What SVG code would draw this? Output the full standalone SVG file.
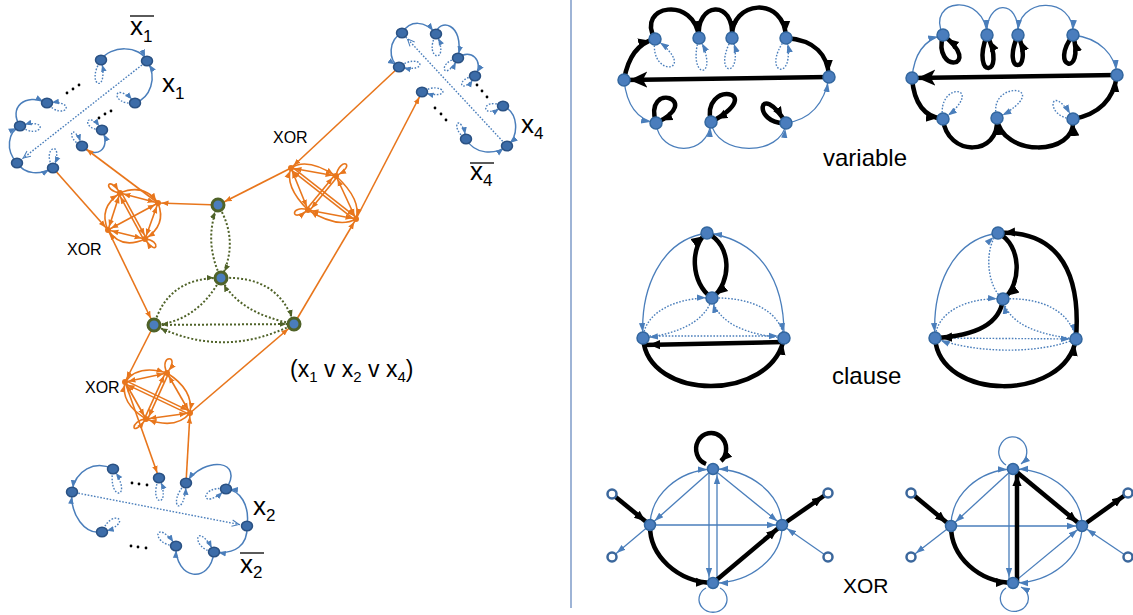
<svg xmlns="http://www.w3.org/2000/svg" width="1133" height="615" viewBox="0 0 1133 615">
<style>
.nb{fill:#3c6ca8;stroke:#2a5183;stroke-width:1.5}
.nr{fill:#4a7dbd;stroke:#33679f;stroke-width:1.5}
.ring{fill:#fff;stroke:#3b679c;stroke-width:2.5}
.ng{fill:#4a7dbd;stroke:#4f6228;stroke-width:3}
.no{fill:#e8761c}
.eb{fill:none;stroke:#4a7ebb;stroke-width:1.5}
.et{fill:none;stroke:#4a7ebb;stroke-width:1.3}
.ed{fill:none;stroke:#4a7ebb;stroke-width:1.4;stroke-dasharray:1.6 1.6}
.ek{fill:none;stroke:#000;stroke-width:4.5}
.eo{fill:none;stroke:#e8761c;stroke-width:1.6}
.eg{fill:none;stroke:#4f6228;stroke-width:2;stroke-dasharray:2 2}
.t{font-family:"Liberation Sans",Arial,sans-serif;fill:#000}
.ov{stroke:#000;stroke-width:1.3}
</style>
<defs>
<marker id="bl" viewBox="0 0 10 10" refX="17" refY="5" markerWidth="7" markerHeight="7" markerUnits="userSpaceOnUse" orient="auto-start-reverse"><path d="M0,1 L10,5 L0,9 z" fill="#4a7ebb"/></marker>
<marker id="vo" viewBox="0 0 10 10" refX="20" refY="5" markerWidth="8" markerHeight="8" markerUnits="userSpaceOnUse" orient="auto"><path d="M1,1 L10,5 L1,9" fill="none" stroke="#4a7ebb" stroke-width="1.3"/></marker>
<marker id="br" viewBox="0 0 10 10" refX="16.7" refY="5" markerWidth="9" markerHeight="9" markerUnits="userSpaceOnUse" orient="auto-start-reverse"><path d="M0,1.5 L10,5 L0,8.5 z" fill="#4a7ebb"/></marker>
<marker id="br0" viewBox="0 0 10 10" refX="10" refY="5" markerWidth="9" markerHeight="9" markerUnits="userSpaceOnUse" orient="auto"><path d="M0,1.5 L10,5 L0,8.5 z" fill="#4a7ebb"/></marker>
<marker id="kb" viewBox="0 0 10 10" refX="15.5" refY="5" markerWidth="11" markerHeight="11" markerUnits="userSpaceOnUse" orient="auto"><path d="M0,0.8 L10,5 L0,9.2 z" fill="#000"/></marker>
<marker id="kb0" viewBox="0 0 10 10" refX="10" refY="5" markerWidth="11" markerHeight="11" markerUnits="userSpaceOnUse" orient="auto"><path d="M0,0.8 L10,5 L0,9.2 z" fill="#000"/></marker>
<marker id="kbig" viewBox="0 0 10 10" refX="13" refY="5" markerWidth="18" markerHeight="18" markerUnits="userSpaceOnUse" orient="auto"><path d="M0,0.5 L10,5 L0,9.5 L2.5,5 z" fill="#000"/></marker>
<marker id="or" viewBox="0 0 10 10" refX="15" refY="5" markerWidth="7" markerHeight="7" markerUnits="userSpaceOnUse" orient="auto-start-reverse"><path d="M0,1 L10,5 L0,9 z" fill="#e8761c"/></marker>
<marker id="ob" viewBox="0 0 10 10" refX="18" refY="5" markerWidth="7" markerHeight="7" markerUnits="userSpaceOnUse" orient="auto"><path d="M0,1 L10,5 L0,9 z" fill="#e8761c"/></marker>
<marker id="og" viewBox="0 0 10 10" refX="20.7" refY="5" markerWidth="7" markerHeight="7" markerUnits="userSpaceOnUse" orient="auto"><path d="M0,1 L10,5 L0,9 z" fill="#e8761c"/></marker>
<marker id="gr" viewBox="0 0 10 10" refX="20.5" refY="5" markerWidth="7" markerHeight="7" markerUnits="userSpaceOnUse" orient="auto"><path d="M0,1 L10,5 L0,9 z" fill="#4f6228"/></marker>
</defs>
<rect width="1133" height="615" fill="#fff"/>
<line x1="571" y1="0" x2="571" y2="608" stroke="#6a8cc0" stroke-width="1.3"/>

<g id="connectors">
<g class="ed" marker-end="url(#vo)">
<path d="M147,61 L17,163"/>
<path d="M507,146 L402,33"/>
<path d="M72,492 L247,526"/>
</g>
<g class="ed" marker-end="url(#bl)">
<path d="M101,60 C84,86 110,96 101,60"/>
<path d="M135,103 C109,106 113,78 135,103"/>
<path d="M47,103 C64,123 80,99 47,103"/>
<path d="M20,126 C40,142 53,116 20,126"/>
<path d="M102,130 C80,130 86,107 102,130"/>
<path d="M82,146 C64,138 73,119 82,146"/>
<path d="M53,168 C40,147 66,138 53,168"/>
<path d="M436,34 C422,61 452,65 436,34"/>
<path d="M458,58 C435,63 445,84 458,58"/>
<path d="M399,67 C420,51 433,74 399,67"/>
<path d="M475,76 C453,79 462,97 475,76"/>
<path d="M422,92 C443,79 456,102 422,92"/>
<path d="M503,106 C480,96 480,122 503,106"/>
<path d="M466,139 C448,127 461,110 466,139"/>
<path d="M113,469 C107,503 135,499 113,469"/>
<path d="M159,478 C147,507 173,509 159,478"/>
<path d="M186,483 C165,505 185,521 186,483"/>
<path d="M226,489 C199,484 199,514 226,489"/>
<path d="M102,532 C112,506 136,523 102,532"/>
<path d="M176,546 C149,545 155,515 176,546"/>
<path d="M214,552 C189,549 196,517 214,552"/>
</g>
<g class="eb" marker-end="url(#bl)">
<path d="M101,60 C110,45 140,45 147,61"/>
<path d="M135,103 C150,98 158,78 147,61"/>
<path d="M17,163 C5,150 8,132 20,126"/>
<path d="M20,126 C8,108 25,92 47,103"/>
<path d="M17,163 C25,175 40,175 53,168"/>
<path d="M82,146 C95,160 112,150 102,130"/>
<path d="M402,33 C410,20 425,20 436,34"/>
<path d="M436,34 C438,18 465,22 458,58"/>
<path d="M458,58 C470,48 485,60 475,76"/>
<path d="M503,106 C518,112 520,135 507,146"/>
<path d="M402,33 C388,40 388,60 399,67"/>
<path d="M466,139 C475,155 495,155 507,146"/>
<path d="M113,469 C95,460 75,470 72,492"/>
<path d="M102,532 C85,535 70,515 72,492"/>
<path d="M247,526 C250,505 240,490 226,489"/>
<path d="M226,489 C245,460 205,455 186,483"/>
<path d="M247,526 C248,545 235,555 214,552"/>
<path d="M214,552 C210,585 175,580 176,546"/>
</g>
<g class="eg" marker-end="url(#gr)">
<path d="M221,278 Q203,241 218,205"/>
<path d="M218,205 Q240,241 221,278"/>
<path d="M154,325 Q168,277 221,278"/>
<path d="M221,278 Q197,322 154,325"/>
<path d="M221,278 Q279,275 294,324"/>
<path d="M294,324 Q237,313 221,278"/>
<path d="M154,325 L294,324"/>
<path d="M294,324 Q224,360 154,325"/>
</g>
<g class="eo" marker-start="url(#or)" marker-end="url(#or)">
<path d="M120,193 L158,203"/>
<path d="M120,193 L108,230"/>
<path d="M158,203 L145,239"/>
<path d="M108,230 L145,239"/>
<path d="M158,203 L108,230"/>
<path d="M291,168 L336,176"/>
<path d="M291,168 L308,210"/>
<path d="M336,176 L356,219"/>
<path d="M308,210 L356,219"/>
<path d="M125,382 L167,373"/>
<path d="M125,382 L146,419"/>
<path d="M167,373 L190,413"/>
<path d="M146,419 L190,413"/>
</g>
<g class="eo" marker-end="url(#or)">
<path d="M121.3,192.3 L146.3,238.3"/>
<path d="M143.7,239.7 L118.7,193.7"/>
<path d="M291.9,166.8 L356.9,217.8"/>
<path d="M355.1,220.2 L290.1,169.2"/>
<path d="M337.2,177 L309.2,211"/>
<path d="M306.8,209 L334.8,175"/>
<path d="M125.6,380.6 L190.6,411.6"/>
<path d="M189.4,414.4 L124.4,383.4"/>
<path d="M168.4,373.6 L147.4,419.6"/>
<path d="M144.6,418.4 L165.6,372.4"/>
<path d="M120,193 Q144,183 158,203"/>
<path d="M158,203 Q167,225 145,239"/>
<path d="M145,239 Q121,250 108,230"/>
<path d="M108,230 Q98,208 120,193"/>
<path d="M120,193 C102,190 108,174 120,193"/>
<path d="M145,239 C162,240 157,258 145,239"/>
<path d="M291,168 Q307,157 336,176"/>
<path d="M336,176 Q362,200 356,219"/>
<path d="M356,219 Q338,229 308,210"/>
<path d="M308,210 Q284,186 291,168"/>
<path d="M336,176 C340,156 358,164 336,176"/>
<path d="M308,210 C290,204 290,224 308,210"/>
<path d="M125,382 Q138,364 167,373"/>
<path d="M167,373 Q194,390 190,413"/>
<path d="M190,413 Q176,430 146,419"/>
<path d="M146,419 Q120,403 125,382"/>
<path d="M167,373 C158,354 182,354 167,373"/>
<path d="M146,419 C130,420 130,440 146,419"/>
<path d="M218,205 L158,203"/>
<path d="M53,168 L108,230"/>
<path d="M399,67 L291,168"/>
<path d="M294,324 L356,219"/>
<path d="M154,325 L125,382"/>
<path d="M186,483 L190,413"/>
</g>
<g class="eo" marker-end="url(#ob)">
<path d="M158,203 L82,146"/>
<path d="M356,219 L422,92"/>
<path d="M125,382 L159,478"/>
</g>
<g class="eo" marker-end="url(#og)">
<path d="M108,230 L154,325"/>
<path d="M291,168 L218,205"/>
<path d="M190,413 L294,324"/>
</g>

<g class="ed" marker-end="url(#br)">
<path d="M655,39 C648,80 702,72 655,39"/>
<path d="M699,38 C686,82 722,80 699,38"/>
<path d="M732,38 C710,78 746,80 732,38"/>
<path d="M786,38 C758,75 798,84 786,38"/>
<path d="M943,119 C935,80 990,85 943,119"/>
<path d="M997,118 C985,78 1060,85 997,118"/>
<path d="M1073,119 C1043,118 1050,78 1073,119"/>
<path d="M643,338 C645,310 680,297 712,298"/>
<path d="M712,298 C705,325 670,335 643,338"/>
<path d="M712,298 C750,297 780,310 784,338"/>
<path d="M784,338 C750,335 718,325 712,298"/>
<path d="M643,336 L784,336"/>
<path d="M1003,299 C985,285 985,245 998,233"/>
<path d="M935,338 C937,310 970,297 1003,299"/>
<path d="M1003,299 C1040,297 1070,310 1076,339"/>
<path d="M1076,339 C1040,335 1008,325 1003,299"/>
<path d="M935,338 L1076,339"/>
<path d="M1076,339 C1040,354 975,354 935,338"/>
</g>
<g class="et" marker-end="url(#br)">
<path d="M624,80 Q628,118 656,123"/>
<path d="M656,123 C660,157 708,157 711,122"/>
<path d="M711,122 C716,157 782,157 786,123"/>
<path d="M786,123 Q822,118 829,77"/>
<path d="M912,78 Q915,42 943,35"/>
<path d="M943,35 C925,-2 985,-8 987,35"/>
<path d="M987,35 C985,0 1020,-3 1018,35"/>
<path d="M1018,35 C1015,-3 1075,-6 1073,35"/>
<path d="M1073,35 C1100,38 1115,55 1117,75"/>
<path d="M707,233 C660,240 640,290 643,338"/>
<path d="M784,338 C785,280 760,240 707,233"/>
<path d="M998,233 C950,240 932,290 935,338"/>
<path d="M650,525 A66,57 0 0 1 713,469"/>
<path d="M782,525 A69,57 0 0 0 713,469"/>
<path d="M782,525 A69,57 0 0 1 713,583"/>
<path d="M713,469 L650,525"/>
<path d="M713,469 L782,525"/>
<path d="M650,525 L782,525"/>
<path d="M709,469 L709,583"/>
<path d="M717,583 L717,469"/>
<path d="M650,525 L612,557"/>
<path d="M828,557 L782,525"/>
<path d="M951,526 A64,57 0 0 1 1013,469"/>
<path d="M1082,526 A69,57 0 0 0 1013,469"/>
<path d="M1082,526 A69,57 0 0 1 1013,583"/>
<path d="M1013,469 L951,526"/>
<path d="M951,526 L1082,526"/>
<path d="M1009,469 L1009,583"/>
<path d="M1013,583 L1082,526"/>
<path d="M951,526 L911,557"/>
<path d="M1128,557 L1082,526"/>
</g>
<g class="et" marker-end="url(#br0)">
<path d="M1006,465 A14,15 0 1 1 1021,464"/>
<path d="M1006,588 A14,13 0 1 0 1021,587"/>
</g>
<path class="et" d="M706,588 A14,13 0 1 0 720,588"/>
<g class="ek" marker-end="url(#kb)">
<path d="M624,80 Q630,45 655,39"/>
<path d="M655,39 C635,5 695,-5 699,38"/>
<path d="M699,38 C695,2 735,-2 732,38"/>
<path d="M732,38 C730,0 785,-5 786,38"/>
<path d="M786,38 C815,40 828,55 829,77"/>
<path d="M656,123 C643,80 705,100 656,123"/>
<path d="M711,122 C700,80 770,90 711,122"/>
<path d="M786,123 C752,125 758,78 786,123"/>
<path d="M943,35 C932,75 985,68 943,35"/>
<path d="M987,35 C970,80 1008,78 987,35"/>
<path d="M1018,35 C1000,75 1035,75 1018,35"/>
<path d="M1073,35 C1048,68 1085,78 1073,35"/>
<path d="M912,78 Q915,116 943,119"/>
<path d="M943,119 C947,157 1000,157 997,118"/>
<path d="M997,118 C1001,157 1077,157 1073,119"/>
<path d="M1073,119 Q1112,112 1117,75"/>
<path d="M712,298 C690,283 690,245 707,233"/>
<path d="M707,233 C732,245 732,282 712,298"/>
<path d="M784,342 L643,345"/>
<path d="M643,338 C648,402 772,402 784,338"/>
<path d="M998,233 C1022,245 1022,285 1003,299"/>
<path d="M1003,299 C1000,325 975,336 935,338"/>
<path d="M1076,339 C1082,262 1050,230 998,233"/>
<path d="M935,338 C940,402 1065,402 1076,339"/>
<path d="M612,494 L650,525"/>
<path d="M650,525 A66,57 0 0 0 713,583"/>
<path d="M713,583 L782,525"/>
<path d="M782,525 L828,493"/>
<path d="M911,493 L951,526"/>
<path d="M951,526 A64,57 0 0 0 1013,583"/>
<path d="M1017,583 L1017,469"/>
<path d="M1013,469 L1082,526"/>
<path d="M1082,526 L1128,493"/>
</g>
<path class="ek" marker-end="url(#kb0)" d="M706,464 A15,16 0 1 1 721,461"/>
<g class="ek" marker-end="url(#kbig)">
<path d="M829,77 L624,80"/>
<path d="M1117,75 L912,78"/>
</g>
</g>

<g id="x1-gadget">
<g id="x1-n1"><ellipse class="nb" cx="101" cy="60" rx="5.5" ry="4.8"/></g>
<g id="x1-n2"><ellipse class="nb" cx="147" cy="61" rx="5.5" ry="4.8"/></g>
<g id="x1-n3"><ellipse class="nb" cx="135" cy="103" rx="5.5" ry="4.8"/></g>
<g id="x1-n4"><ellipse class="nb" cx="47" cy="103" rx="5.5" ry="4.8"/></g>
<g id="x1-n5"><ellipse class="nb" cx="20" cy="126" rx="5.5" ry="4.8"/></g>
<g id="x1-n6"><ellipse class="nb" cx="102" cy="130" rx="5.5" ry="4.8"/></g>
<g id="x1-n7"><ellipse class="nb" cx="82" cy="146" rx="5.5" ry="4.8"/></g>
<g id="x1-n8"><ellipse class="nb" cx="17" cy="163" rx="5.5" ry="4.8"/></g>
<g id="x1-n9"><ellipse class="nb" cx="53" cy="168" rx="5.5" ry="4.8"/></g>
</g>
<g id="x4-gadget">
<g id="x4-n1"><ellipse class="nb" cx="402" cy="33" rx="5.5" ry="4.8"/></g>
<g id="x4-n2"><ellipse class="nb" cx="436" cy="34" rx="5.5" ry="4.8"/></g>
<g id="x4-n3"><ellipse class="nb" cx="458" cy="58" rx="5.5" ry="4.8"/></g>
<g id="x4-n4"><ellipse class="nb" cx="399" cy="67" rx="5.5" ry="4.8"/></g>
<g id="x4-n5"><ellipse class="nb" cx="475" cy="76" rx="5.5" ry="4.8"/></g>
<g id="x4-n6"><ellipse class="nb" cx="422" cy="92" rx="5.5" ry="4.8"/></g>
<g id="x4-n7"><ellipse class="nb" cx="503" cy="106" rx="5.5" ry="4.8"/></g>
<g id="x4-n8"><ellipse class="nb" cx="466" cy="139" rx="5.5" ry="4.8"/></g>
<g id="x4-n9"><ellipse class="nb" cx="507" cy="146" rx="5.5" ry="4.8"/></g>
</g>
<g id="x2-gadget">
<g id="x2-n1"><ellipse class="nb" cx="113" cy="469" rx="5.5" ry="4.8"/></g>
<g id="x2-n2"><ellipse class="nb" cx="159" cy="478" rx="5.5" ry="4.8"/></g>
<g id="x2-n3"><ellipse class="nb" cx="186" cy="483" rx="5.5" ry="4.8"/></g>
<g id="x2-n4"><ellipse class="nb" cx="72" cy="492" rx="5.5" ry="4.8"/></g>
<g id="x2-n5"><ellipse class="nb" cx="226" cy="489" rx="5.5" ry="4.8"/></g>
<g id="x2-n6"><ellipse class="nb" cx="102" cy="532" rx="5.5" ry="4.8"/></g>
<g id="x2-n7"><ellipse class="nb" cx="247" cy="526" rx="5.5" ry="4.8"/></g>
<g id="x2-n8"><ellipse class="nb" cx="176" cy="546" rx="5.5" ry="4.8"/></g>
<g id="x2-n9"><ellipse class="nb" cx="214" cy="552" rx="5.5" ry="4.8"/></g>
</g>
<g id="dots" fill="#000">
<circle cx="67" cy="93" r="1.4"/><circle cx="73" cy="89" r="1.4"/><circle cx="79" cy="85" r="1.4"/>
<circle cx="99" cy="118" r="1.4"/><circle cx="105" cy="114" r="1.4"/><circle cx="111" cy="111" r="1.4"/>
<circle cx="477" cy="85" r="1.4"/><circle cx="482" cy="91" r="1.4"/><circle cx="487" cy="97" r="1.4"/>
<circle cx="435" cy="108" r="1.4"/><circle cx="441" cy="114" r="1.4"/><circle cx="446" cy="120" r="1.4"/>
<circle cx="132" cy="483" r="1.4"/><circle cx="139" cy="484" r="1.4"/><circle cx="147" cy="485" r="1.4"/>
<circle cx="131" cy="546" r="1.4"/><circle cx="138" cy="547" r="1.4"/><circle cx="146" cy="548" r="1.4"/>
</g>
<g id="clause-gadget">
<g id="c-top"><circle class="ng" cx="218" cy="205" r="6"/></g>
<g id="c-mid"><circle class="ng" cx="221" cy="278" r="6"/></g>
<g id="c-left"><circle class="ng" cx="154" cy="325" r="6"/></g>
<g id="c-right"><circle class="ng" cx="294" cy="324" r="6"/></g>
</g>
<g id="xor-a">
<g id="xa-1"><circle class="no" cx="120" cy="193" r="3"/></g>
<g id="xa-2"><circle class="no" cx="158" cy="203" r="3"/></g>
<g id="xa-3"><circle class="no" cx="108" cy="230" r="3"/></g>
<g id="xa-4"><circle class="no" cx="145" cy="239" r="3"/></g>
</g>
<g id="xor-b">
<g id="xb-1"><circle class="no" cx="291" cy="168" r="3"/></g>
<g id="xb-2"><circle class="no" cx="336" cy="176" r="3"/></g>
<g id="xb-3"><circle class="no" cx="308" cy="210" r="3"/></g>
<g id="xb-4"><circle class="no" cx="356" cy="219" r="3"/></g>
</g>
<g id="xor-c">
<g id="xc-1"><circle class="no" cx="125" cy="382" r="3"/></g>
<g id="xc-2"><circle class="no" cx="167" cy="373" r="3"/></g>
<g id="xc-3"><circle class="no" cx="146" cy="419" r="3"/></g>
<g id="xc-4"><circle class="no" cx="190" cy="413" r="3"/></g>
</g>

<g id="var1">
<g id="v1-l"><circle class="nr" cx="624" cy="80" r="6"/></g>
<g id="v1-r"><circle class="nr" cx="829" cy="77" r="6"/></g>
<g id="v1-t1"><circle class="nr" cx="655" cy="39" r="6"/></g>
<g id="v1-t2"><circle class="nr" cx="699" cy="38" r="6"/></g>
<g id="v1-t3"><circle class="nr" cx="732" cy="38" r="6"/></g>
<g id="v1-t4"><circle class="nr" cx="786" cy="38" r="6"/></g>
<g id="v1-b1"><circle class="nr" cx="656" cy="123" r="6"/></g>
<g id="v1-b2"><circle class="nr" cx="711" cy="122" r="6"/></g>
<g id="v1-b3"><circle class="nr" cx="786" cy="123" r="6"/></g>
</g>
<g id="var2">
<g id="v2-l"><circle class="nr" cx="912" cy="78" r="6"/></g>
<g id="v2-r"><circle class="nr" cx="1117" cy="75" r="6"/></g>
<g id="v2-t1"><circle class="nr" cx="943" cy="35" r="6"/></g>
<g id="v2-t2"><circle class="nr" cx="987" cy="35" r="6"/></g>
<g id="v2-t3"><circle class="nr" cx="1018" cy="35" r="6"/></g>
<g id="v2-t4"><circle class="nr" cx="1073" cy="35" r="6"/></g>
<g id="v2-b1"><circle class="nr" cx="943" cy="119" r="6"/></g>
<g id="v2-b2"><circle class="nr" cx="997" cy="118" r="6"/></g>
<g id="v2-b3"><circle class="nr" cx="1073" cy="119" r="6"/></g>
</g>
<g id="clause1">
<g id="cl1-t"><circle class="nr" cx="707" cy="233" r="6"/></g>
<g id="cl1-c"><circle class="nr" cx="712" cy="298" r="6"/></g>
<g id="cl1-l"><circle class="nr" cx="643" cy="338" r="6"/></g>
<g id="cl1-r"><circle class="nr" cx="784" cy="338" r="6"/></g>
</g>
<g id="clause2">
<g id="cl2-t"><circle class="nr" cx="998" cy="233" r="6"/></g>
<g id="cl2-c"><circle class="nr" cx="1003" cy="299" r="6"/></g>
<g id="cl2-l"><circle class="nr" cx="935" cy="338" r="6"/></g>
<g id="cl2-r"><circle class="nr" cx="1076" cy="339" r="6"/></g>
</g>
<g id="xor1">
<g id="xr1-t"><circle class="nr" cx="713" cy="469" r="5.5"/></g>
<g id="xr1-l"><circle class="nr" cx="650" cy="525" r="5.5"/></g>
<g id="xr1-r"><circle class="nr" cx="782" cy="525" r="5.5"/></g>
<g id="xr1-b"><circle class="nr" cx="713" cy="583" r="5.5"/></g>
<g id="xr1-p1"><circle class="ring" cx="612" cy="494" r="4.5"/></g>
<g id="xr1-p2"><circle class="ring" cx="612" cy="557" r="4.5"/></g>
<g id="xr1-p3"><circle class="ring" cx="828" cy="493" r="4.5"/></g>
<g id="xr1-p4"><circle class="ring" cx="828" cy="557" r="4.5"/></g>
</g>
<g id="xor2">
<g id="xr2-t"><circle class="nr" cx="1013" cy="469" r="5.5"/></g>
<g id="xr2-l"><circle class="nr" cx="951" cy="526" r="5.5"/></g>
<g id="xr2-r"><circle class="nr" cx="1082" cy="526" r="5.5"/></g>
<g id="xr2-b"><circle class="nr" cx="1013" cy="583" r="5.5"/></g>
<g id="xr2-p1"><circle class="ring" cx="911" cy="493" r="4.5"/></g>
<g id="xr2-p2"><circle class="ring" cx="911" cy="557" r="4.5"/></g>
<g id="xr2-p3"><circle class="ring" cx="1128" cy="493" r="4.5"/></g>
<g id="xr2-p4"><circle class="ring" cx="1128" cy="557" r="4.5"/></g>
</g>

<g id="labels">
<text class="t" x="130" y="35" font-size="26">x<tspan font-size="17" dy="7">1</tspan></text>
<line class="ov" x1="130" y1="16" x2="154" y2="16"/>
<text class="t" x="162" y="92" font-size="26">x<tspan font-size="17" dy="7">1</tspan></text>
<text class="t" x="521" y="133" font-size="26">x<tspan font-size="17" dy="6">4</tspan></text>
<text class="t" x="470" y="180" font-size="26">x<tspan font-size="17" dy="6">4</tspan></text>
<line class="ov" x1="470" y1="163" x2="494" y2="163"/>
<text class="t" x="253" y="515" font-size="26">x<tspan font-size="17" dy="6">2</tspan></text>
<text class="t" x="240" y="573" font-size="26">x<tspan font-size="17" dy="5">2</tspan></text>
<line class="ov" x1="240" y1="553" x2="264" y2="553"/>
<text class="t" x="67" y="255" font-size="16">XOR</text>
<text class="t" x="273" y="143" font-size="16">XOR</text>
<text class="t" x="85" y="393" font-size="16">XOR</text>
<text class="t" x="290" y="377" font-size="23" xml:space="preserve">(x<tspan font-size="15" dy="5">1</tspan><tspan dy="-5"> v x</tspan><tspan font-size="15" dy="5">2</tspan><tspan dy="-5"> v x</tspan><tspan font-size="15" dy="5">4</tspan><tspan dy="-5">)</tspan></text>
<text class="t" x="823" y="166" font-size="24">variable</text>
<text class="t" x="832" y="384" font-size="24">clause</text>
<text class="t" x="843" y="593" font-size="21">XOR</text>
</g>
</svg>
